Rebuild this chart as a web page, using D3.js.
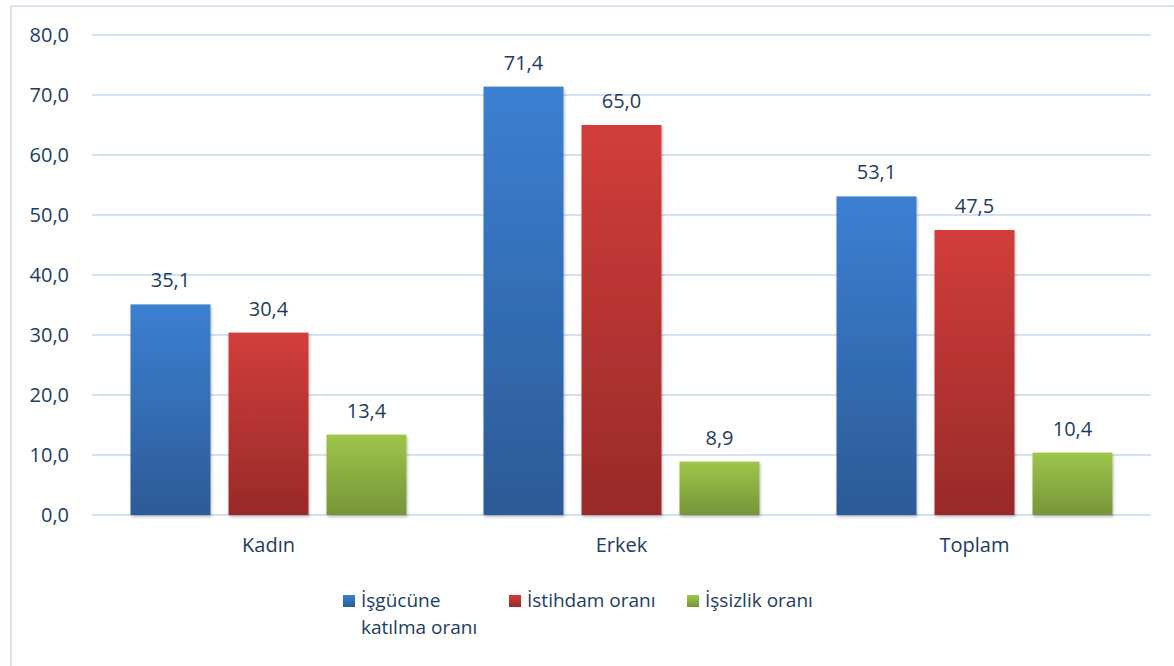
<!DOCTYPE html>
<html>
<head>
<meta charset="utf-8">
<script src="https://cdn.jsdelivr.net/npm/d3@7"></script>
<style>
  body { margin: 0; background: #fff; }
  svg text { font-family: "Open Sans", sans-serif; fill: #213c63; }
</style>
</head>
<body>
<div id="chart"></div>
<script>
const categories = ["Kadın", "Erkek", "Toplam"];
const seriesNames = ["İşgücüne katılma oranı", "İstihdam oranı", "İşsizlik oranı"];
const participation = [35.1, 71.4, 53.1];
const employment = [30.4, 65.0, 47.5];
const unemployment = [13.4, 8.9, 10.4];
const yTicks = [0, 10, 20, 30, 40, 50, 60, 70, 80];

const series = [participation, employment, unemployment];
const gradients = [
  ["#3b80d2", "#2c5a97"],
  ["#d23d3b", "#982a29"],
  ["#9dc64b", "#769538"]
];

const width = 1174, height = 666;
const margin = {top: 35, right: 23, bottom: 151, left: 92};

const svg = d3.select("#chart").append("svg")
  .attr("width", width)
  .attr("height", height);

const defs = svg.append("defs");
gradients.forEach((g, i) => {
  const lg = defs.append("linearGradient")
    .attr("id", "grad" + i)
    .attr("x1", 0).attr("y1", 0).attr("x2", 0).attr("y2", 1);
  lg.append("stop").attr("offset", "0%").attr("stop-color", g[0]);
  lg.append("stop").attr("offset", "100%").attr("stop-color", g[1]);
});
const shadow = defs.append("filter").attr("id", "shadow")
  .attr("x", "-10%").attr("y", "-10%").attr("width", "130%").attr("height", "130%");
shadow.append("feDropShadow")
  .attr("dx", 1).attr("dy", 2).attr("stdDeviation", 1.5)
  .attr("flood-color", "#000").attr("flood-opacity", 0.25);

// outer frame
svg.append("path")
  .attr("d", `M11,${height} L11,6 L${width},6`)
  .attr("fill", "none")
  .attr("stroke", "#d8e3f2")
  .attr("stroke-width", 2);

const x0 = d3.scaleBand()
  .domain(categories)
  .range([margin.left, width - margin.right])
  .padding(0);

const x1 = d3.scaleBand()
  .domain(d3.range(series.length))
  .range([0, x0.bandwidth()])
  .paddingInner(0.184)
  .paddingOuter(0.393);

const y = d3.scaleLinear()
  .domain([0, 80])
  .range([height - margin.bottom, margin.top]);

const fmt = v => d3.format(".1f")(v).replace(".", ",");

// gridlines
svg.append("g")
  .selectAll("line")
  .data(yTicks)
  .join("line")
  .attr("x1", margin.left)
  .attr("x2", width - margin.right)
  .attr("y1", d => y(d))
  .attr("y2", d => y(d))
  .attr("stroke", "#d4e1f2")
  .attr("stroke-width", 2);

// y axis labels
const yAxis = svg.append("g")
  .attr("transform", `translate(${margin.left},0)`)
  .call(d3.axisLeft(y).tickValues(yTicks).tickFormat(fmt).tickSize(0).tickPadding(23));
yAxis.select(".domain").remove();
yAxis.selectAll("text")
  .style("font-size", "20px")
  .attr("fill", null);

// bars
const groups = svg.append("g")
  .selectAll("g")
  .data(categories)
  .join("g")
  .attr("transform", d => `translate(${x0(d)},0)`);

groups.selectAll("rect")
  .data((d, ci) => series.map((s, si) => ({si, v: s[ci]})))
  .join("rect")
  .attr("x", d => x1(d.si))
  .attr("width", x1.bandwidth())
  .attr("y", d => y(d.v))
  .attr("height", d => y(0) - y(d.v))
  .attr("fill", d => `url(#grad${d.si})`)
  .attr("filter", "url(#shadow)");

groups.selectAll("text.val")
  .data((d, ci) => series.map((s, si) => ({si, v: s[ci]})))
  .join("text")
  .attr("class", "val")
  .attr("x", d => x1(d.si) + x1.bandwidth() / 2)
  .attr("y", d => y(d.v) - 17)
  .attr("text-anchor", "middle")
  .style("font-size", "20px")
  .text(d => fmt(d.v));

// x axis labels
const xAxis = svg.append("g")
  .attr("transform", `translate(0,${y(0)})`)
  .call(d3.axisBottom(x0).tickSize(0).tickPadding(23));
xAxis.select(".domain").remove();
xAxis.selectAll("text")
  .style("font-size", "20px")
  .attr("fill", null);

// legend
const legendItems = [
  {x: 343, lines: ["İşgücüne", "katılma oranı"]},
  {x: 509, lines: ["İstihdam oranı"]},
  {x: 687, lines: ["İşsizlik oranı"]}
];
const legend = svg.append("g");
legendItems.forEach((item, i) => {
  const g = legend.append("g").attr("transform", `translate(${item.x},595)`);
  g.append("rect")
    .attr("width", 12).attr("height", 12)
    .attr("fill", `url(#grad${i})`);
  g.append("text")
    .attr("x", 18)
    .attr("y", 12)
    .style("font-size", "19px")
    .selectAll("tspan")
    .data(item.lines)
    .join("tspan")
    .attr("x", 18)
    .attr("dy", (d, j) => j === 0 ? 0 : 27)
    .text(d => d);
});
</script>
</body>
</html>
